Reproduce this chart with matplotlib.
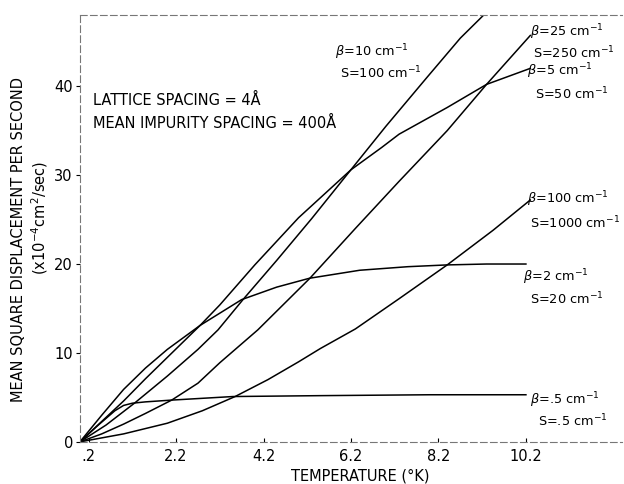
import matplotlib
matplotlib.use("Agg")
import matplotlib.pyplot as plt

# values
t_b05 = [0, 0.4, 0.8, 1.0, 1.2, 1.5, 2.1, 3.5, 5.5, 8.0, 10.2]
v_b05 = [0, 1.8, 3.5, 4.1, 4.35, 4.5, 4.7, 5.1, 5.2, 5.3, 5.3]

t_b2 = [0, 0.5, 1.0, 1.5, 2.0, 2.75, 3.7, 4.5, 5.25, 6.4, 7.5, 8.4, 9.3, 10.2]
v_b2 = [0, 3.0, 5.9, 8.3, 10.4, 13.1, 16.0, 17.4, 18.4, 19.3, 19.7, 19.9, 20.0, 20.0]

t_b5 = [0, 1.0, 1.5, 2.75, 3.2, 4.0, 5.0, 6.2, 6.9, 7.3, 8.4, 9.3, 10.3]
v_b5 = [0, 4.6, 7.1, 13.1, 15.4, 19.9, 25.2, 30.6, 33.1, 34.6, 37.6, 40.2, 42.0]

t_b10 = [0, 0.6, 1.26, 2.0, 2.7, 3.16, 3.73, 4.5, 5.3, 6.1, 7.0, 7.94, 8.7, 9.4]
v_b10 = [0, 1.9, 4.4, 7.4, 10.4, 12.6, 16.0, 20.4, 25.1, 30.0, 35.5, 41.0, 45.4, 48.8]

t_b25 = [0, 0.5, 1.0, 1.5, 2.1, 2.7, 3.2, 4.07, 5.26, 6.3, 7.3, 8.4, 9.3, 10.3]
v_b25 = [0, 0.9, 2.0, 3.2, 4.7, 6.6, 8.9, 12.6, 18.4, 24.0, 29.3, 35.0, 40.2, 45.7]

t_b100 = [0, 1.0, 2.0, 2.8, 3.55, 4.3, 5.0, 5.5, 6.3, 7.3, 8.4, 9.45, 10.3]
v_b100 = [0, 0.9, 2.1, 3.5, 5.1, 7.0, 9.0, 10.5, 12.7, 16.1, 19.9, 23.8, 27.2]

x_ticks = [0.2, 2.2, 4.2, 6.2, 8.2, 10.2]
x_ticklabels = [".2", "2.2", "4.2", "6.2", "8.2", "10.2"]
y_ticks = [0, 10, 20, 30, 40]

curve_labels = [
    (r"$\beta$=10 cm$^{-1}$", r"S=100 cm$^{-1}$"),
    (r"$\beta$=25 cm$^{-1}$", r"S=250 cm$^{-1}$"),
    (r"$\beta$=5 cm$^{-1}$", r"S=50 cm$^{-1}$"),
    (r"$\beta$=100 cm$^{-1}$", r"S=1000 cm$^{-1}$"),
    (r"$\beta$=2 cm$^{-1}$", r"S=20 cm$^{-1}$"),
    (r"$\beta$=.5 cm$^{-1}$", r"S=.5 cm$^{-1}$"),
]

plt.rcParams['font.family'] = ['DejaVu Sans']
plt.rcParams['mathtext.fontset'] = 'dejavusans'

fig = plt.figure(figsize=(6.24, 4.84), dpi=100)
ax = fig.add_axes([0.128, 0.087, 0.869, 0.882])

for t, v in [(t_b05, v_b05), (t_b2, v_b2), (t_b5, v_b5),
             (t_b10, v_b10), (t_b25, v_b25), (t_b100, v_b100)]:
    ax.plot(t, v, color='black', lw=1.1)

ax.set_xlim(0, 12.4)
ax.set_ylim(0, 48)
ax.set_xticks(x_ticks)
ax.set_xticklabels(x_ticklabels)
ax.set_yticks(y_ticks)
ax.tick_params(axis='x', direction='in', length=3, labelsize=10.5, pad=5)
ax.tick_params(axis='y', direction='out', length=3, labelsize=10.5, pad=2)

for side in ['left', 'bottom', 'top']:
    ax.spines[side].set_linestyle((0, (6, 3)))
    ax.spines[side].set_color('#777777')
    ax.spines[side].set_linewidth(0.8)
ax.spines['right'].set_visible(False)

# curve labels (two lines each)
label_pos = [(5.84, 43.8, 5.95, 41.5),
             (10.30, 46.1, 10.37, 43.7),
             (10.23, 41.7, 10.41, 39.1),
             (10.23, 27.3, 10.30, 24.6),
             (10.14, 18.5, 10.30, 16.1),
             (10.30, 4.7, 10.48, 2.3)]
for (l1, l2), (x1, y1, x2, y2) in zip(curve_labels, label_pos):
    ax.text(x1, y1, l1, fontsize=9.3, ha='left', va='center')
    ax.text(x2, y2, l2, fontsize=9.3, ha='left', va='center')

ax.text(0.3, 38.4, "LATTICE SPACING = 4Å", fontsize=10.5, ha='left', va='center')
ax.text(0.3, 35.8, "MEAN IMPURITY SPACING = 400Å", fontsize=10.5, ha='left', va='center')

ax.text(0.517, -0.08, "TEMPERATURE (°K)", transform=ax.transAxes,
        fontsize=10.5, ha='center', va='center')
ax.text(-0.1125, 0.473, "MEAN SQUARE DISPLACEMENT PER SECOND", transform=ax.transAxes,
        fontsize=10.5, rotation=90, ha='center', va='center')
ax.text(-0.074, 0.525, r"(x10$^{-4}$cm$^2$/sec)", transform=ax.transAxes,
        fontsize=10.5, rotation=90, ha='center', va='center')

plt.savefig("out.png", dpi=100)
